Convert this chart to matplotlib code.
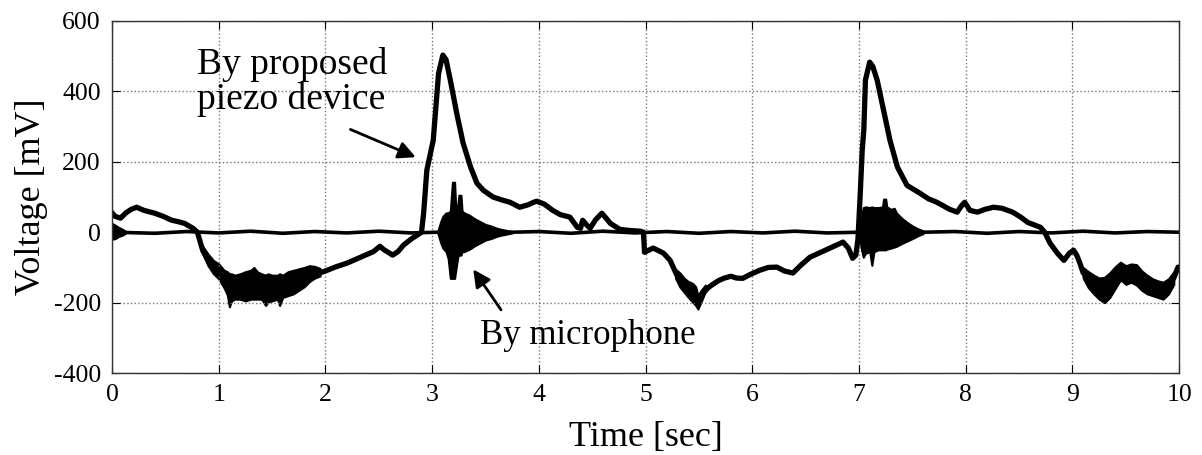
import numpy as np
import matplotlib
matplotlib.use('Agg')
import matplotlib.pyplot as plt

plt.rcParams['font.family'] = ['Liberation Serif', 'DejaVu Serif']
plt.rcParams['axes.unicode_minus'] = False

# Piezo device signal (time s, voltage mV)
piezo_t = [0.00, 0.03, 0.08, 0.13, 0.18, 0.23, 0.30, 0.40, 0.48, 0.56, 0.62, 0.68, 0.72, 0.76,
           0.80, 0.85, 0.90, 0.95, 1.00, 1.05, 1.10, 1.20, 1.30, 1.40, 1.50, 1.60, 1.70, 1.80,
           1.90, 1.95, 2.00, 2.10, 2.20, 2.26, 2.35, 2.45, 2.51, 2.55, 2.63, 2.68, 2.73, 2.80,
           2.86, 2.90, 2.92, 2.95, 3.01, 3.06, 3.10, 3.13, 3.17, 3.23, 3.29, 3.36, 3.42, 3.48,
           3.57, 3.65, 3.73, 3.82, 3.90, 3.95, 3.98, 4.05, 4.13, 4.20, 4.29, 4.36, 4.39, 4.41,
           4.45, 4.48, 4.53, 4.59, 4.63, 4.67, 4.76, 4.85, 4.95, 4.98, 4.99, 5.07, 5.12, 5.17,
           5.23, 5.26, 5.29, 5.35, 5.40, 5.45, 5.49, 5.52, 5.58, 5.62, 5.68, 5.73, 5.80, 5.85,
           5.91, 5.98, 6.07, 6.15, 6.23, 6.30, 6.38, 6.45, 6.54, 6.62, 6.73, 6.80, 6.85, 6.90,
           6.94, 6.97, 6.99, 7.01, 7.03, 7.045, 7.06, 7.10, 7.13, 7.17, 7.23, 7.29, 7.36, 7.45,
           7.57, 7.65, 7.73, 7.85, 7.92, 7.96, 7.99, 8.04, 8.11, 8.18, 8.26, 8.34, 8.44, 8.52,
           8.58, 8.70, 8.74, 8.79, 8.86, 8.92, 8.97, 9.01, 9.04, 9.07, 9.10, 9.20, 9.30, 9.35,
           9.40, 9.45, 9.50, 9.55, 9.60, 9.65, 9.70, 9.80, 9.85, 9.90, 9.95, 9.99, 10.0]
piezo_v = [55, 45, 40, 55, 65, 71, 62, 54, 45, 34, 30, 25, 18, 11,
           0, -52, -78, -98, -110, -132, -150, -155, -150, -155, -160, -155, -142, -128,
           -112, -115, -110, -98, -88, -80, -68, -55, -40, -50, -65, -55, -37, -20,
           -8, 0, 54, 176, 261, 451, 503, 490, 432, 338, 253, 185, 139, 119,
           100, 92, 85, 71, 78, 85, 88, 80, 62, 50, 43, 14, 11, 34,
           20, 11, 35, 54, 40, 25, 8, 5, 3, 0, -57, -45, -52, -60,
           -80, -100, -120, -150, -162, -175, -200, -180, -159, -150, -138, -131, -125, -130,
           -131, -120, -108, -100, -99, -110, -116, -95, -71, -60, -45, -35, -28, -45,
           -74, -65, -20, 100, 233, 290, 432, 483, 470, 432, 346, 261, 185, 133,
           111, 95, 85, 65, 57, 75, 85, 62, 57, 65, 71, 68, 57, 42,
           28, 14, 0, -31, -60, -80, -60, -51, -65, -88, -115, -152, -165, -155,
           -125, -108, -118, -112, -118, -135, -148, -158, -162, -152, -130, -99, -100]

# Noisy stretches of the piezo trace: upper and lower edges of the black band
band1_t = [0.85, 0.90, 0.95, 1.00, 1.05, 1.08, 1.10, 1.12, 1.15, 1.20, 1.25, 1.30, 1.33, 1.36,
           1.40, 1.44, 1.46, 1.50, 1.55, 1.57, 1.60, 1.65, 1.70, 1.75, 1.80, 1.85, 1.90, 1.95]
band1_hi = [-40, -62, -80, -90, -108, -112, -118, -118, -122, -118, -112, -108, -100, -112,
            -118, -122, -118, -122, -122, -118, -122, -112, -108, -104, -100, -95, -97, -103]
band1_lo = [-62, -95, -118, -132, -158, -178, -212, -195, -190, -190, -195, -190, -190, -190,
            -190, -208, -198, -195, -190, -208, -185, -180, -175, -165, -155, -140, -130, -124]
band2_t = [5.28, 5.32, 5.36, 5.40, 5.44, 5.47, 5.49, 5.52, 5.56]
band2_hi = [-105, -115, -130, -140, -145, -155, -180, -165, -150]
band2_lo = [-130, -155, -170, -185, -198, -208, -218, -198, -168]
band3_t = [9.10, 9.15, 9.20, 9.25, 9.30, 9.35, 9.40, 9.45, 9.50, 9.55, 9.60, 9.65, 9.70,
           9.75, 9.80, 9.85, 9.90, 9.95]
band3_hi = [-100, -112, -122, -130, -128, -115, -98, -85, -95, -90, -92, -110, -122,
            -132, -138, -142, -132, -112]
band3_lo = [-130, -158, -175, -190, -200, -185, -160, -135, -148, -142, -150, -165, -175,
            -180, -185, -190, -175, -148]

# Microphone signal: flat baseline plus bursts (edges of the black blobs)
mic_t = [0.00, 0.15, 0.4, 0.7, 1.0, 1.3, 1.6, 1.9, 2.2, 2.5, 2.8, 3.05, 3.75, 4.0, 4.3, 4.6,
         4.9, 5.2, 5.5, 5.8, 6.1, 6.4, 6.7, 7.0, 7.6, 7.9, 8.2, 8.5, 8.8, 9.1, 9.4, 9.7, 10.0]
mic_v = [0, -1, -3, 2, -2, 3, -3, 2, -2, 3, -2, 0, 0, 2, -3, 3, -2, 2, -3, 2, -2, 3, -2,
         0, 0, 2, -3, 2, -2, 3, -2, 2, 0]
burst0_t = [0.00, 0.03, 0.06, 0.10, 0.13]
burst0_hi = [25, 20, 14, 8, 2]
burst0_lo = [-20, -18, -12, -8, -2]
burst1_t = [3.05, 3.08, 3.10, 3.13, 3.15, 3.17, 3.19, 3.21, 3.22, 3.24, 3.25, 3.27, 3.28,
            3.30, 3.35, 3.40, 3.45, 3.50, 3.55, 3.60, 3.65, 3.70, 3.75]
burst1_hi = [0, 30, 45, 55, 55, 60, 142, 142, 75, 75, 105, 105, 60, 55, 48, 38, 30, 22,
             18, 12, 8, 5, 2]
burst1_lo = [0, -30, -45, -55, -75, -131, -131, -131, -110, -70, -65, -65, -55, -55, -48,
             -38, -30, -22, -18, -12, -8, -5, -2]
burst2_t = [7.00, 7.02, 7.04, 7.06, 7.10, 7.12, 7.14, 7.18, 7.22, 7.23, 7.25, 7.26, 7.30,
            7.33, 7.35, 7.40, 7.45, 7.50, 7.55, 7.60]
burst2_hi = [0, 40, 70, 72, 70, 72, 70, 70, 72, 94, 94, 72, 65, 68, 55, 40, 28, 18, 10, 4]
burst2_lo = [0, -45, -71, -60, -55, -94, -55, -50, -50, -50, -50, -48, -45, -42, -40, -32,
             -25, -18, -10, -4]

fig, ax = plt.subplots(figsize=(12.02, 4.55), dpi=100)
fig.subplots_adjust(left=0.0932, right=0.981, top=0.954, bottom=0.180)

ax.plot(mic_t, mic_v, color='black', lw=2.6)
for bt, bh, bl in [(burst0_t, burst0_hi, burst0_lo), (burst1_t, burst1_hi, burst1_lo),
                   (burst2_t, burst2_hi, burst2_lo)]:
    ax.fill_between(bt, bl, bh, color='black', lw=1.5, edgecolor='black')
ax.plot(piezo_t, piezo_v, color='black', lw=3.8)
for bt, bh, bl in [(band1_t, band1_hi, band1_lo), (band2_t, band2_hi, band2_lo),
                   (band3_t, band3_hi, band3_lo)]:
    ax.fill_between(bt, bl, bh, color='black', lw=1.5, edgecolor='black')

ax.set_xlim(0, 10)
ax.set_ylim(-400, 600)
ax.set_xticks(np.arange(0, 11, 1))
ax.set_yticks(np.arange(-400, 601, 200))
ax.grid(True, linestyle=':', color='#777777', linewidth=1.0)
ax.tick_params(direction='in', top=True, right=True, labelsize=18.5, length=6, pad=8)
for s in ax.spines.values():
    s.set_linewidth(1.0)
    s.set_color('#333333')

ax.set_xlabel('Time [sec]', fontsize=26, labelpad=11)
ax.set_ylabel('Voltage [mV]', fontsize=26, labelpad=4)

ax.text(0.80, 525, 'By proposed\npiezo device', fontsize=27, ha='left', va='top',
        linespacing=1.0)
ax.annotate('', xy=(2.87, 210), xytext=(2.21, 295),
            arrowprops=dict(arrowstyle='-|>', color='black', lw=2.0, mutation_scale=26))
ax.text(3.45, -293, 'By microphone', fontsize=25, ha='left', va='center')
ax.annotate('', xy=(3.37, -99), xytext=(3.66, -227),
            arrowprops=dict(arrowstyle='-|>', color='black', lw=2.0, mutation_scale=26))

plt.savefig('out.png', dpi=100)
